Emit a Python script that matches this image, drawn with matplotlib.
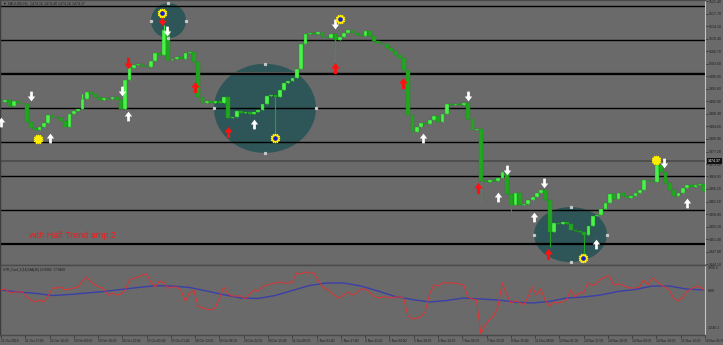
import numpy as np
import matplotlib.pyplot as plt
from matplotlib.patches import Ellipse
from matplotlib.path import Path

# XAUUSD H1, one candle drawn per 3 hourly bars
step = 3
closes = [1491.8, 1492.4, 1490.6, 1492.1, 1491.5, 1491.2, 1485.9, 1484.1, 1483.5, 1484.4,
          1485.6, 1487.9, 1487.4, 1487.1, 1486.2, 1484.4, 1488.2, 1489.1, 1489.7, 1492.7,
          1494.7, 1494.1, 1493.2, 1492.4, 1493.0, 1492.7, 1493.1, 1492.4, 1489.7, 1498.2,
          1501.8, 1502.7, 1503.0, 1502.4, 1502.1, 1503.8, 1506.2, 1505.6, 1512.9, 1504.1,
          1504.4, 1505.0, 1504.4, 1506.2, 1506.5, 1503.5, 1493.2, 1491.5, 1492.1, 1491.5,
          1492.0, 1491.6, 1493.2, 1487.1, 1487.4, 1489.1, 1488.5, 1488.9, 1488.3, 1488.8,
          1489.4, 1491.2, 1493.5, 1493.8, 1493.3, 1495.3, 1497.4, 1498.0, 1498.8, 1501.5,
          1508.8, 1511.8, 1512.1, 1511.7, 1512.3, 1510.9, 1510.6, 1511.8, 1510.0, 1510.9,
          1512.1, 1512.9, 1512.1, 1511.5, 1511.2, 1512.6, 1511.2, 1509.7, 1509.1, 1508.8,
          1507.6, 1506.8, 1505.6, 1504.7, 1501.2, 1487.9, 1482.9, 1484.4, 1485.6, 1485.2,
          1486.5, 1487.7, 1485.9, 1488.2, 1491.2, 1490.9, 1491.3, 1490.8, 1491.5, 1486.8,
          1483.5, 1483.9, 1468.5, 1468.3, 1468.8, 1468.5, 1469.4, 1471.2, 1464.7, 1461.5,
          1465.0, 1461.5, 1461.8, 1463.0, 1463.8, 1465.0, 1465.9, 1463.0, 1453.6, 1456.2,
          1455.8, 1456.4, 1456.0, 1454.1, 1453.9, 1453.6, 1452.7, 1455.3, 1458.3, 1458.5,
          1460.3, 1462.1, 1464.7, 1463.3, 1465.0, 1464.1, 1463.5, 1464.1, 1465.0, 1465.9,
          1468.8, 1468.4, 1468.2, 1473.3, 1471.2, 1468.0, 1465.9, 1464.1, 1465.0, 1466.5,
          1467.4, 1466.8, 1467.4, 1467.7, 1465.6]
wick_hi = {38: 1514.4, 153: 1474.7, 19: 1494.0}
wick_lo = {64: 1481.2, 78: 1502.7, 96: 1481.5, 112: 1462.1, 119: 1459.1, 128: 1449.1, 136: 1446.2}

# signals (bar index, price)
white_dn_x = [21, 85, 116, 234, 327, 354, 380, 464]
white_dn_y = [1493.5, 1495.0, 1512.6, 1514.7, 1493.5, 1471.8, 1468.0, 1473.8]
white_up_x = [0, 34, 89, 177, 295, 348, 373, 416, 480]
white_up_y = [1485.9, 1481.2, 1487.7, 1485.3, 1481.2, 1463.8, 1458.0, 1450.0, 1462.1]
red_dn_x = [113, 89]
red_dn_y = [1515.9, 1503.2]
red_up_x = [136, 159, 234, 281, 334, 383]
red_up_y = [1496.2, 1482.9, 1501.8, 1497.4, 1466.5, 1447.1]
star_x = [113, 237, 26, 192, 407, 458]
star_y = [1517.9, 1516.2, 1480.9, 1481.2, 1445.9, 1474.7]
star_blue = [True, True, False, True, True, False]

# ellipses: centre bar, centre price, width (bars), height (price)
ell_x = [117.2, 184.7, 398.5]
ell_y = [1515.7, 1489.9, 1452.8]
ell_w = [24.5, 71.4, 51.1]
ell_h = [10.3, 26.2, 16.2]

levels = [1450, 1460, 1470, 1480, 1490, 1500, 1510, 1520]
price_ticks = [1521.40, 1517.70, 1514.10, 1510.40, 1506.70, 1503.00, 1499.30, 1495.60,
               1492.00, 1488.30, 1484.60, 1480.90, 1477.20, 1473.50, 1469.90, 1466.20,
               1462.50, 1458.80, 1455.10, 1451.40, 1447.80, 1444.10]
last_price = 1474.37

# lower indicator
osc = [63, 137, -157, -83, -83, -83, -450, -670, -817, -670,
       -817, -377, 210, 210, 284, 63, 137, 210, 284, 724,
       1018, 651, 431, 284, 137, -303, -157, -303, -230, 63,
       798, 945, 1018, 1165, 1238, 651, 284, 724, 578, 210,
       284, 284, 63, -744, -157, 63, -1111, -1257, -1331, -1404,
       -1257, -523, 284, -230, -377, -377, -377, -597, -230, 63,
       -10, 284, 431, 504, 578, 651, 578, 578, 651, 1312,
       1238, 1385, 1312, 1312, 798, 284, 137, -83, -377, -523,
       -303, -83, -303, -157, 137, 137, -83, -377, -523, -450,
       -450, -523, -450, -450, -523, -1845, -2065, -1991, -1918, -1551,
       -303, 431, 357, 578, 578, 578, 578, 504, 431, -450,
       -597, -670, -3150, -2505, -2138, -1845, -1184, 578, -230, -890,
       -744, -817, -1037, -450, 284, -303, 137, -670, -1111, -817,
       -890, -817, -670, 63, -450, -157, -157, 578, 431, 504,
       871, 1018, 1092, 431, 504, 431, 284, 210, 210, 284,
       798, 431, 945, 724, 431, 284, 63, -523, -744, -523,
       -83, 137, 284, 357, 63]
ma_step = 12
ma = [63, -83, -179, -340, -267, -157, -46, 100, 247, 380, 357, 247, -10, -281,
      -523, -560, -340, 27, 394, 578, 578, 357, -10, -414, -634, -817, -707, -523,
      -597, -670, -817, -890, -780, -523, -450, -303, -46, 100, 357, 357, 137, 63]

date_labels = ["21 Oct 2019", "21 Oct 17:00", "22 Oct 10:00", "23 Oct 03:00", "23 Oct 19:00",
               "24 Oct 12:00", "25 Oct 05:00", "25 Oct 21:00", "28 Oct 13:00", "29 Oct 06:00",
               "29 Oct 22:00", "30 Oct 15:00", "31 Oct 08:00", "1 Nov 01:00", "1 Nov 17:00",
               "4 Nov 11:00", "5 Nov 04:00", "5 Nov 20:00", "6 Nov 13:00", "7 Nov 06:00",
               "7 Nov 22:00", "8 Nov 15:00", "11 Nov 08:00", "12 Nov 01:00", "12 Nov 17:00",
               "13 Nov 10:00", "14 Nov 03:00", "14 Nov 19:00", "15 Nov 12:00", "18 Nov 05:00"]
date_every = 17

bg = '#6a6a6a'
small = ['Liberation Sans', 'DejaVu Sans']

fig = plt.figure(figsize=(7.23, 3.45), dpi=100, facecolor=bg)
ax = fig.add_axes([0, 80 / 345, 705 / 723, 265 / 345], facecolor=bg)
ax2 = fig.add_axes([0, 10 / 345, 705 / 723, 70 / 345], facecolor=bg)

xmin, xmax = -0.7, 492.6
ax.set_xlim(xmin, xmax)
ax.set_ylim(1443.85, 1521.76)
ax2.set_xlim(xmin, xmax)
ax2.set_ylim(-3240.1, 1899.3)

# ellipses
for cx, cy, w, h in zip(ell_x, ell_y, ell_w, ell_h):
    ax.add_patch(Ellipse((cx, cy), w, h, facecolor='#2e5658', edgecolor='none', zorder=1))
    ax.plot([cx, cx - w / 2, cx + w / 2, cx], [cy + h / 2, cy, cy, cy - h / 2], ls='none',
            marker='s', ms=1.3, color='#c8c8c8', zorder=6)

# horizontal levels
for lv in levels:
    ax.axhline(lv, color='black', lw=1.6 if lv in (1450, 1500) else 1.0, zorder=2)
ax.axhline(1500.5, color='#555555', lw=0.8, zorder=2)
ax.axhline(last_price, color='#4d4d4d', lw=1.3, zorder=2)

# candles
bars = np.arange(len(closes)) * step
c = np.array(closes)
o = np.r_[c[0], c[:-1]]
hi = np.maximum(o, c)
lo = np.minimum(o, c)
for k, v in wick_hi.items():
    hi[k] = v
for k, v in wick_lo.items():
    lo[k] = v
col = np.where(c >= o, '#4cf24c', '#22a622')
ax.vlines(bars, lo, hi, colors=col, lw=0.8, zorder=3)
ax.bar(bars, c - o, bottom=o, width=2.6, color=col, edgecolor='#1a8f1a', lw=0.3, zorder=4)

# arrows
up_arrow = Path([(-0.14, -0.5), (0.14, -0.5), (0.14, 0.0), (0.38, 0.0), (0, 0.5),
                 (-0.38, 0.0), (-0.14, 0.0), (-0.14, -0.5)], closed=True)
dn_arrow = Path(up_arrow.vertices * [1, -1], closed=True)
ax.plot(white_dn_x, white_dn_y, ls='none', marker=dn_arrow, ms=7, mfc='white', mec='none', zorder=5)
ax.plot(white_up_x, white_up_y, ls='none', marker=up_arrow, ms=7, mfc='white', mec='none', zorder=5)
ax.plot(red_dn_x, red_dn_y, ls='none', marker=dn_arrow, ms=8, mfc='#ff1010', mec='none', zorder=5)
ax.plot(red_up_x, red_up_y, ls='none', marker=up_arrow, ms=8, mfc='#ff1010', mec='none', zorder=5)

# stars
ax.plot(star_x, star_y, ls='none', marker=(12, 1, 0), ms=6.5, color='#ffee00', zorder=6)
bx = [x for x, b in zip(star_x, star_blue) if b]
by = [y for y, b in zip(star_y, star_blue) if b]
ax.plot(bx, by, ls='none', marker='o', ms=2.3, color='#1a1ad0', zorder=7)

ax.text(28 / 705, 1 - 236 / 265, "with Half Trend amp 2", transform=ax.transAxes,
        color='#f01c1c', fontsize=6.5, family=small, va='center', ha='left')
fig.text(3 / 723, 1 - 4 / 345, "\u25bc XAUUSD,H1  1474.16 1474.40 1474.16 1474.37",
         fontsize=2.6, family=small, color='#1a1a1a', va='center', ha='left')

# price axis
ax.yaxis.tick_right()
ax.set_yticks(price_ticks)
ax.set_yticklabels([f"{p:.2f}" for p in price_ticks], fontsize=2.5, family=small, color='#1e1e1e')
ax.tick_params(axis='y', length=2, width=0.4, pad=1, colors='#1e1e1e')
ax.set_xticks([])
ax.text(1.004, last_price, f"{last_price:.2f}", transform=ax.get_yaxis_transform(),
        fontsize=2.5, family=small, color='white', va='center', ha='left', zorder=10,
        bbox=dict(boxstyle='square,pad=0.25', fc='#111111', ec='none'))

# lower panel
osc_x = np.arange(len(osc)) * step
ma_x = np.arange(len(ma)) * ma_step
ax2.plot(osc_x, osc, color='#e03232', lw=0.7, zorder=3)
ax2.plot(ma_x, ma, color='#3b3fa8', lw=1.0, zorder=2)
ax2.text(3 / 705, 0.93, "STR_Conf_1(14) MA(30) 16.0000 -77.0400", transform=ax2.transAxes,
         fontsize=2.3, family=small, color='#1a1a1a', va='center', ha='left')
ax2.set_yticks([])
for yv, ya, lab in [(1899.3, 0.955, "1899.3"), (0, None, "0.00"), (-3240.1, 0.1, "-3240.1")]:
    ax2.text(1.004, yv if ya is None else ya, lab,
             transform=ax2.get_yaxis_transform() if ya is None else ax2.transAxes,
             fontsize=2.5, family=small, color='#1e1e1e', va='center', ha='left')

ticks = [i * date_every for i in range(len(date_labels))]
ax2.set_xticks(ticks)
ax2.set_xticklabels(date_labels, fontsize=2.3, family=small, color='#1e1e1e', ha='left')
ax2.tick_params(axis='x', length=2, width=0.4, pad=0.8, colors='#1e1e1e')

for a in (ax, ax2):
    a.spines['left'].set_color('#3c3c3c')
    a.spines['left'].set_linewidth(1.0)
    a.spines['right'].set_color('#c4c4c4')
    a.spines['right'].set_linewidth(0.8)
    a.spines['top'].set_color('#4a4a4a')
    a.spines['bottom'].set_color('#4a4a4a')
    a.spines['top'].set_linewidth(1.0)
    a.spines['bottom'].set_linewidth(1.0)

fig.savefig("out.png", dpi=100, facecolor=bg)
